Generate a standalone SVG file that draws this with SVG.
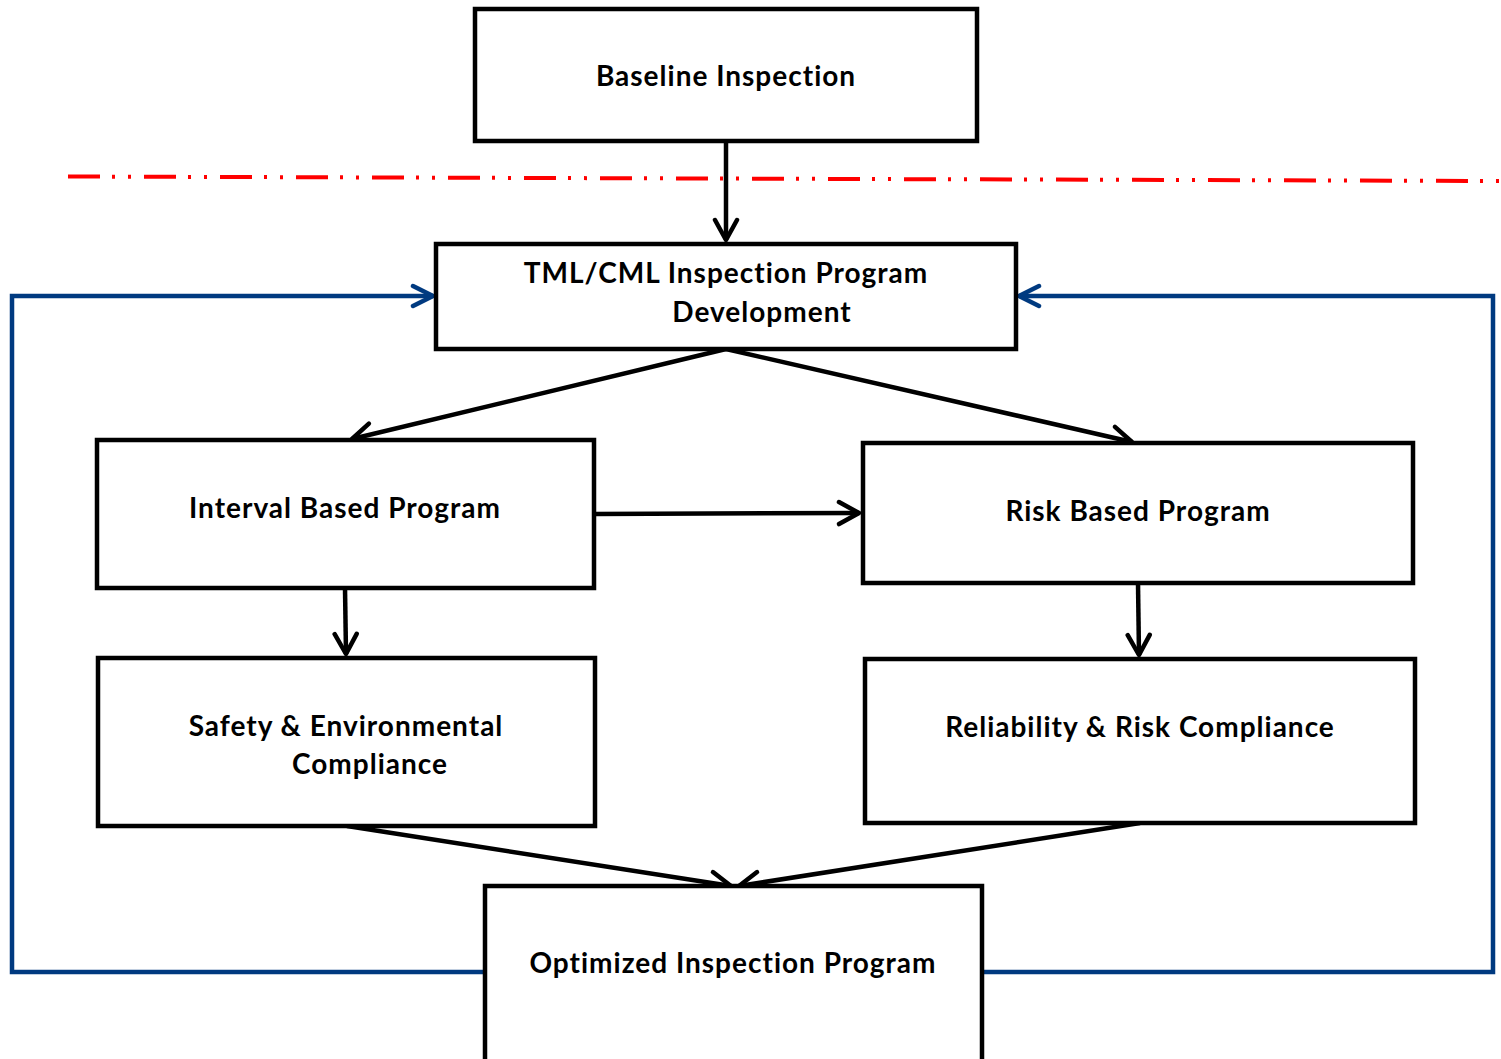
<svg xmlns="http://www.w3.org/2000/svg" width="1501" height="1059" viewBox="0 0 1501 1059">
<style>
.box{fill:#fff;stroke:#000;stroke-width:4.5}
.lbl{font-family:Lato,"Liberation Sans",sans-serif;font-weight:bold;font-size:28px;letter-spacing:1px;fill:#000;text-anchor:middle}
.blk{fill:none;stroke:#000;stroke-width:4.5}
.blu{fill:none;stroke:#003a80;stroke-width:4.5}
</style>
<defs>
<marker id="ak" markerUnits="userSpaceOnUse" markerWidth="30" markerHeight="30" refX="23" refY="15" orient="auto" viewBox="0 0 30 30">
<path d="M3,4 L23,15 L3,26" fill="none" stroke="#000" stroke-width="4.5" stroke-linecap="round" stroke-linejoin="round"/>
</marker>
<marker id="ab" markerUnits="userSpaceOnUse" markerWidth="30" markerHeight="30" refX="23" refY="15" orient="auto" viewBox="0 0 30 30">
<path d="M3,5 L23,15 L3,25" fill="none" stroke="#003a80" stroke-width="4.5" stroke-linecap="round" stroke-linejoin="round"/>
</marker>
</defs>
<rect width="1501" height="1059" fill="#fff"/>
<line x1="68" y1="176.5" x2="1501" y2="181" stroke="#ff0000" stroke-width="4" stroke-dasharray="32 12 3 13 3 13"/>
<g id="connectors">
<polyline class="blu" points="485,972 12,972 12,296 433,296" marker-end="url(#ab)"/>
<polyline class="blu" points="983,972 1493,972 1493,296 1019,296" marker-end="url(#ab)"/>
<line class="blk" x1="726" y1="141" x2="726" y2="240" marker-end="url(#ak)"/>
<line class="blk" x1="726" y1="349" x2="352" y2="439" marker-end="url(#ak)"/>
<line class="blk" x1="726" y1="349" x2="1132" y2="442" marker-end="url(#ak)"/>
<line class="blk" x1="594" y1="514" x2="859" y2="513" marker-end="url(#ak)"/>
<line class="blk" x1="345" y1="588" x2="346" y2="654" marker-end="url(#ak)"/>
<line class="blk" x1="1138" y1="583" x2="1139" y2="655" marker-end="url(#ak)"/>
<line class="blk" x1="347" y1="826" x2="731" y2="886" marker-end="url(#ak)"/>
<line class="blk" x1="1140" y1="823" x2="739" y2="886" marker-end="url(#ak)"/>
</g>
<g id="baseline"><rect class="box" x="475" y="9" width="502" height="132"/><text class="lbl" x="726" y="86">Baseline Inspection</text></g>
<g id="tml"><rect class="box" x="436" y="244" width="580" height="105"/><text class="lbl" x="726" y="283">TML/CML Inspection Program</text><text class="lbl" x="762" y="322">Development</text></g>
<g id="interval"><rect class="box" x="97" y="440" width="497" height="148"/><text class="lbl" x="345" y="518">Interval Based Program</text></g>
<g id="risk"><rect class="box" x="863" y="443" width="550" height="140"/><text class="lbl" x="1138" y="521">Risk Based Program</text></g>
<g id="safety"><rect class="box" x="98" y="658" width="497" height="168"/><text class="lbl" x="346" y="736">Safety &amp; Environmental</text><text class="lbl" x="370" y="774">Compliance</text></g>
<g id="reliability"><rect class="box" x="865" y="659" width="550" height="164"/><text class="lbl" x="1140" y="737">Reliability &amp; Risk Compliance</text></g>
<g id="optimized"><rect class="box" x="485" y="886" width="497" height="176"/><text class="lbl" x="733" y="973">Optimized Inspection Program</text></g>
</svg>
